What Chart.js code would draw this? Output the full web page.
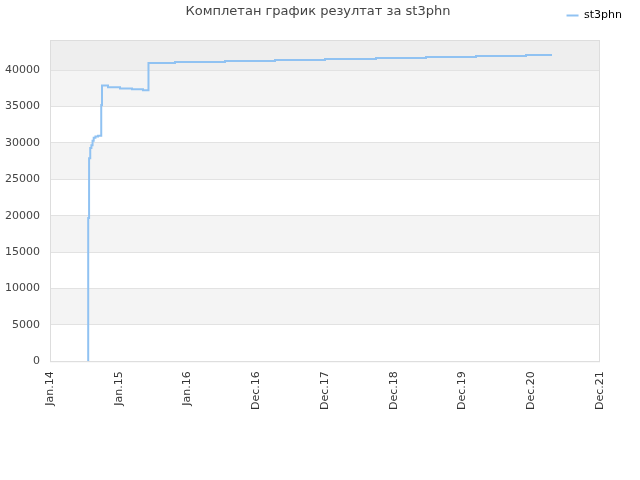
<!DOCTYPE html>
<html>
<head>
<meta charset="utf-8">
<script src="https://cdn.jsdelivr.net/npm/chart.js@4"></script>
<style>
  body { margin: 0; background: #fff; }
</style>
</head>
<body>
<canvas id="chart" width="640" height="480"></canvas>
<script>
const titleText = 'Комплетан график резултат за st3phn';
const seriesName = 'st3phn';

// x in months since Jan 2014, value = cumulative result (stepped)
const months = [6.56, 6.6, 6.75, 6.95, 7.15, 7.35, 7.55, 7.85, 8.3, 8.85, 8.98, 10.02, 12.09, 14.16, 16.06, 17.01, 21.59, 30.23, 38.86, 47.5, 56.31, 64.95, 73.58, 82.22, 86.71];
const results = [0, 19700, 27900, 29300, 29700, 30300, 30700, 30900, 31000, 35200, 37900, 37650, 37500, 37370, 37230, 41000, 41140, 41270, 41410, 41550, 41690, 41820, 41960, 42100, 42100];

const xLabels = ['Jan.14', 'Jan.15', 'Jan.16', 'Dec.16', 'Dec.17', 'Dec.18', 'Dec.19', 'Dec.20', 'Dec.21'];
const xMax = 95;
const yTicks = [0, 5000, 10000, 15000, 20000, 25000, 30000, 35000, 40000];
const yMax = 44150;

const bandsPlugin = {
    id: 'bands',
    beforeDraw(chart) {
        const {ctx, chartArea: a, scales: {y}} = chart;
        ctx.save();
        for (let v = 0; v < y.max; v += 5000) {
            const top = y.getPixelForValue(Math.min(v + 5000, y.max));
            const bottom = y.getPixelForValue(v);
            ctx.fillStyle = v >= 40000 ? '#eeeeee' : ((v / 5000) % 2 ? '#f4f4f4' : '#ffffff');
            ctx.fillRect(a.left, top, a.right - a.left, bottom - top);
        }
        ctx.restore();
    },
    afterDraw(chart) {
        const {ctx, chartArea: a} = chart;
        ctx.save();
        ctx.strokeStyle = '#dddddd';
        ctx.lineWidth = 1;
        ctx.strokeRect(a.left + 0.5, a.top + 0.5, a.right - a.left - 1, a.bottom - a.top);
        ctx.fillStyle = '#444';
        ctx.font = '13px "DejaVu Sans"';
        ctx.textAlign = 'center';
        ctx.textBaseline = 'middle';
        ctx.fillText(titleText, 318, 12);
        ctx.restore();
    }
};

// empty axes used only as spacers
const spacer = (position, fit) => ({
    position: position,
    display: true,
    grid: {display: false},
    border: {display: false},
    ticks: {display: false},
    afterFit: fit
});

new Chart(document.getElementById('chart'), {
    type: 'line',
    data: {
        datasets: [{
            label: seriesName,
            data: months.map((m, i) => ({x: m, y: results[i]})),
            xAxisID: 'x',
            yAxisID: 'y',
            borderColor: '#90c2f2',
            backgroundColor: '#90c2f2',
            borderWidth: 2,
            stepped: true,
            pointRadius: 0,
            fill: false
        }]
    },
    options: {
        responsive: false,
        animation: false,
        layout: {
            padding: {left: 0, right: 8, top: 0, bottom: 68}
        },
        plugins: {
            legend: {
                position: 'top',
                align: 'end',
                labels: {
                    usePointStyle: true,
                    pointStyle: 'line',
                    pointStyleWidth: 12,
                    color: '#000',
                    font: {family: 'DejaVu Sans', size: 11},
                    padding: 10
                }
            },
            tooltip: {enabled: false}
        },
        scales: {
            x: {
                type: 'linear',
                min: 0,
                max: xMax,
                afterBuildTicks: axis => {
                    axis.ticks = xLabels.map((l, i) => ({value: xMax / (xLabels.length - 1) * i}));
                },
                grid: {display: false},
                border: {display: false},
                ticks: {
                    autoSkip: false,
                    maxRotation: 90,
                    minRotation: 90,
                    padding: 2,
                    color: '#333',
                    font: {family: 'DejaVu Sans', size: 11},
                    callback: (v, i) => xLabels[i]
                }
            },
            y: {
                min: 0,
                max: yMax,
                afterBuildTicks: axis => {
                    axis.ticks = yTicks.map(v => ({value: v}));
                },
                afterFit: s => { s.width = 50; },
                grid: {color: '#e2e2e2', drawTicks: false},
                border: {display: false},
                ticks: {
                    padding: 10,
                    color: '#444',
                    font: {family: 'DejaVu Sans', size: 11},
                    callback: v => String(v)
                }
            },
            xTop: Object.assign({type: 'linear', axis: 'x'}, spacer('top', s => { s.height = 9; })),
            yRight: Object.assign({type: 'linear', axis: 'y'}, spacer('right', s => { s.width = 32; }))
        }
    },
    plugins: [bandsPlugin]
});
</script>
</body>
</html>
